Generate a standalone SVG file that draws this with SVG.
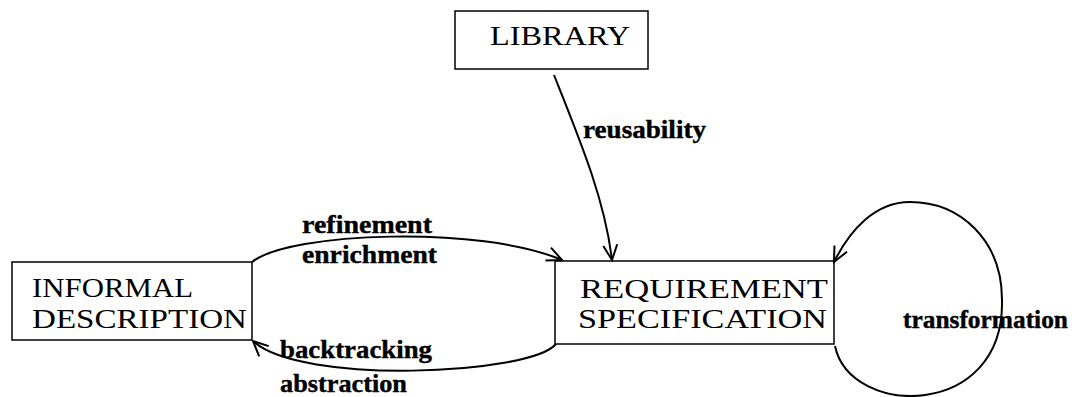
<svg xmlns="http://www.w3.org/2000/svg" width="1091" height="397" viewBox="0 0 1091 397">
<style>
.box{fill:#fff;stroke:#000;stroke-width:1.5}
.nt{font-family:"Liberation Serif",serif;font-size:27px;fill:#000}
.lb{font-family:"Liberation Serif",serif;font-size:26px;font-weight:bold;fill:#000;stroke:#000;stroke-width:0.4}
.edge{fill:none;stroke:#000;stroke-width:2}
</style>
<defs>
<marker id="arr" markerUnits="userSpaceOnUse" markerWidth="20" markerHeight="20" refX="16" refY="8" orient="auto">
<path d="M1,1 L16,8 L1,15" fill="none" stroke="#000" stroke-width="2"/>
</marker>
</defs>
<rect width="1091" height="397" fill="#fff"/>
<g id="library">
<rect class="box" x="455" y="11" width="193" height="58"/>
<text class="nt" x="490" y="45" textLength="140" lengthAdjust="spacingAndGlyphs">LIBRARY</text>
</g>
<g id="informal">
<rect class="box" x="12" y="262" width="240" height="78"/>
<text class="nt" x="32" y="297" textLength="161" lengthAdjust="spacingAndGlyphs">INFORMAL</text>
<text class="nt" x="32" y="328" textLength="215" lengthAdjust="spacingAndGlyphs">DESCRIPTION</text>
</g>
<g id="requirement">
<rect class="box" x="555" y="261" width="279" height="83"/>
<text class="nt" x="580" y="298" textLength="248" lengthAdjust="spacingAndGlyphs">REQUIREMENT</text>
<text class="nt" x="578" y="328" textLength="249" lengthAdjust="spacingAndGlyphs">SPECIFICATION</text>
</g>
<g id="connectors">
<path class="edge" d="M554,75 C580,140 605,200 612,260" marker-end="url(#arr)"/>
<path class="edge" d="M252,262 C290,232 480,225 562,260" marker-end="url(#arr)"/>
<path class="edge" d="M556,344 C530,375 300,385 253,341" marker-end="url(#arr)"/>
<path class="edge" d="M835,346 C850,418 1005,420 1002,300 C1002,240 960,202 910,202 C875,202 850,230 834,262" marker-end="url(#arr)"/>
<text class="lb" x="583" y="138" textLength="123" lengthAdjust="spacingAndGlyphs">reusability</text>
<text class="lb" x="302" y="233" textLength="130" lengthAdjust="spacingAndGlyphs">refinement</text>
<text class="lb" x="302" y="263" textLength="135" lengthAdjust="spacingAndGlyphs">enrichment</text>
<text class="lb" x="280" y="358" textLength="152" lengthAdjust="spacingAndGlyphs">backtracking</text>
<text class="lb" x="280" y="392" textLength="127" lengthAdjust="spacingAndGlyphs">abstraction</text>
<text class="lb" x="903" y="328" textLength="165" lengthAdjust="spacingAndGlyphs">transformation</text>
</g>
</svg>
